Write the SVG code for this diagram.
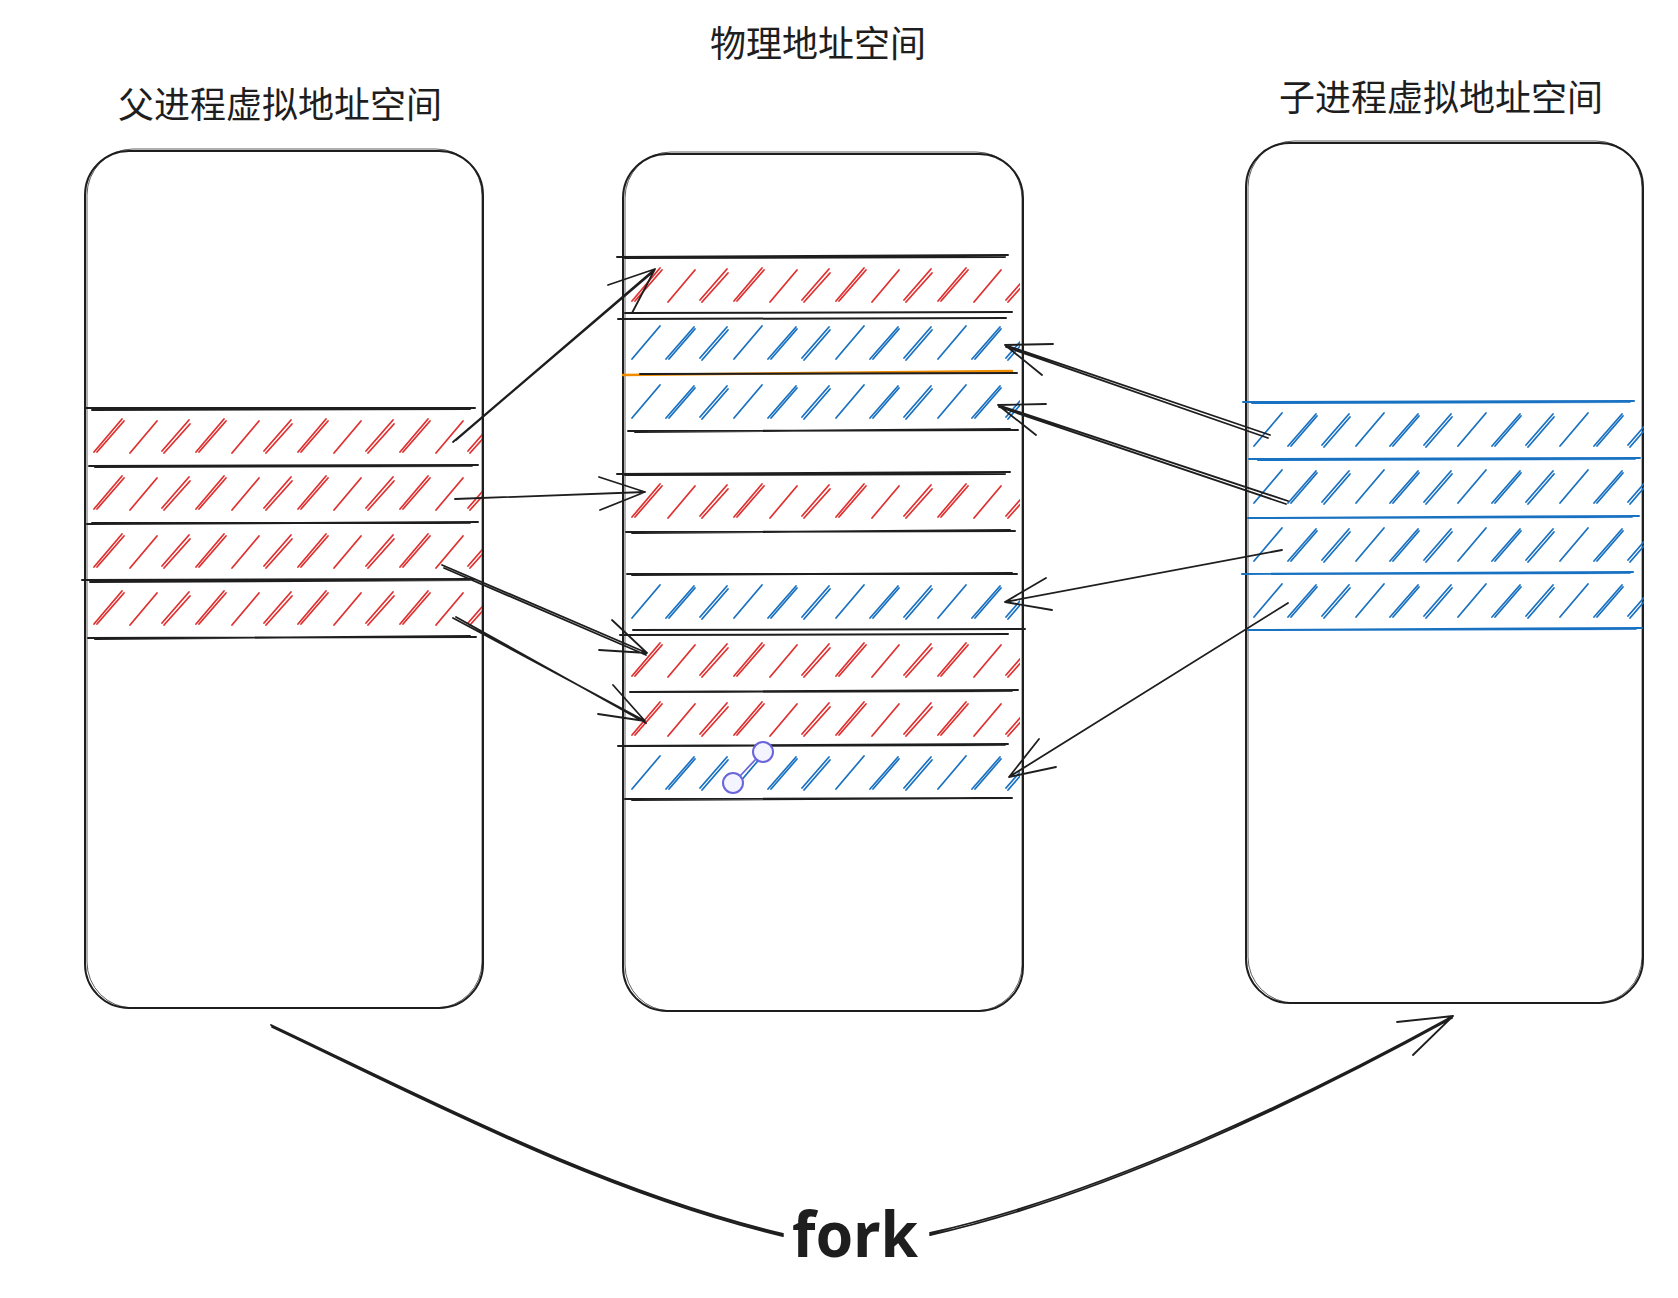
<svg xmlns="http://www.w3.org/2000/svg" width="1678" height="1298" viewBox="0 0 1678 1298">
  <style>
    .box{fill:none;stroke:#1e1e1e;stroke-width:2}
    .box2{fill:none;stroke:#1e1e1e;stroke-width:1;opacity:.7}
    .ln{fill:none;stroke:#1e1e1e;stroke-width:2;stroke-linecap:round}
    .lb{fill:none;stroke:#1971c2;stroke-width:2;stroke-linecap:round}
    .lo{fill:none;stroke:#f08c00;stroke-width:2.5;stroke-linecap:round}
    .ar{fill:none;stroke:#1e1e1e;stroke-width:1.8;stroke-linecap:round;stroke-linejoin:round}
    .t{font-family:"Noto Sans CJK SC","Noto Sans",sans-serif;font-size:36px;fill:#1e1e1e}
    .fork{font-family:"Noto Sans",sans-serif;font-weight:700;font-size:62px;fill:#1e1e1e}
  </style>
  <defs>
    <pattern id="hr" patternUnits="userSpaceOnUse" width="102" height="60">
      <path d="M4 44 L32 11 M7 44 L34 13 M40 45 L67 13 M72 43 L99 12 M74 45 L100 16" fill="none" stroke="#e03131" stroke-width="1.8" stroke-linecap="round"/>
    </pattern>
    <pattern id="hb" patternUnits="userSpaceOnUse" width="102" height="60">
      <path d="M4 44 L32 11 M38 44 L66 12 M41 44 L67 14 M72 43 L99 12 M74 45 L100 15" fill="none" stroke="#1971c2" stroke-width="1.8" stroke-linecap="round"/>
    </pattern>
  </defs>
  <rect width="1678" height="1298" fill="#ffffff"/>

  <g id="parent-space">
    <text class="t" x="118" y="118">父进程虚拟地址空间</text>
    <rect class="box" x="85" y="151" width="398" height="857" rx="44"/>
    <rect class="box2" x="87" y="149" width="395" height="859" rx="46"/>
    <rect transform="translate(90,408)" width="392" height="57" fill="url(#hr)"/>
    <rect transform="translate(90,465)" width="392" height="58" fill="url(#hr)"/>
    <rect transform="translate(90,523)" width="392" height="57" fill="url(#hr)"/>
    <rect transform="translate(90,580)" width="392" height="58" fill="url(#hr)"/>
    <path class="ln" d="M86 408 L475 408 M92 410 L470 409"/>
    <path class="ln" d="M89 466 L478 465 M95 467 L472 466"/>
    <path class="ln" d="M87 524 L478 522 M92 523 L470 523"/>
    <path class="ln" d="M82 580 L474 579 M90 582 L470 580"/>
    <path class="ln" d="M88 638 L476 637 M95 639 L470 636"/>
  </g>

  <g id="physical-space">
    <text class="t" x="710" y="57">物理地址空间</text>
    <rect class="box" x="623" y="154" width="400" height="857" rx="44"/>
    <rect class="box2" x="625" y="152" width="397" height="859" rx="46"/>
    <rect transform="translate(628,257)" width="392" height="58" fill="url(#hr)"/>
    <rect transform="translate(628,315)" width="392" height="59" fill="url(#hb)"/>
    <rect transform="translate(628,374)" width="392" height="56" fill="url(#hb)"/>
    <rect transform="translate(628,473)" width="392" height="58" fill="url(#hr)"/>
    <rect transform="translate(628,574)" width="392" height="58" fill="url(#hb)"/>
    <rect transform="translate(628,632)" width="392" height="59" fill="url(#hr)"/>
    <rect transform="translate(628,691)" width="392" height="54" fill="url(#hr)"/>
    <rect transform="translate(628,745)" width="392" height="54" fill="url(#hb)"/>
    <path class="ln" d="M617 257 L1008 255 M625 258 L1005 257"/>
    <path class="ln" d="M625 313 L1012 312 M618 319 L1006 318"/>
    <path class="lo" d="M623 375 L1012 371"/>
    <path class="ln" d="M640 374 L1017 373"/>
    <path class="ln" d="M628 431 L1018 430 M635 432 L1010 429"/>
    <path class="ln" d="M617 474 L1010 472 M625 475 L1005 474"/>
    <path class="ln" d="M626 532 L1015 531 M632 533 L1010 530"/>
    <path class="ln" d="M627 574 L1017 574 M632 575 L1012 573"/>
    <path class="ln" d="M633 630 L1025 629 M620 635 L1008 634"/>
    <path class="ln" d="M630 692 L1018 690 M635 692 L1012 691"/>
    <path class="ln" d="M618 746 L1008 744 M625 746 L1005 745"/>
    <path class="ln" d="M625 799 L1012 798 M632 800 L1008 798"/>
    <g id="handle">
      <path d="M756 759 L740 776" stroke="#6965db" stroke-width="1.8" fill="none"/>
      <circle cx="763" cy="752" r="10" fill="#f3f4ff" stroke="#6965db" stroke-width="2"/>
      <circle cx="733" cy="783" r="10" fill="#f3f4ff" stroke="#6965db" stroke-width="2"/>
    </g>
  </g>

  <g id="child-space">
    <text class="t" x="1279" y="111">子进程虚拟地址空间</text>
    <rect class="box" x="1246" y="143" width="397" height="860" rx="44"/>
    <rect class="box2" x="1248" y="141" width="394" height="862" rx="46"/>
    <rect transform="translate(1250,402)" width="394" height="57" fill="url(#hb)"/>
    <rect transform="translate(1250,459)" width="394" height="58" fill="url(#hb)"/>
    <rect transform="translate(1250,517)" width="394" height="56" fill="url(#hb)"/>
    <rect transform="translate(1250,573)" width="394" height="56" fill="url(#hb)"/>
    <path class="lb" d="M1243 402 L1634 401 M1252 403 L1630 402"/>
    <path class="lb" d="M1249 459 L1640 458 M1258 460 L1635 459"/>
    <path class="lb" d="M1248 518 L1639 516 M1255 518 L1632 517"/>
    <path class="lb" d="M1242 574 L1633 572 M1250 574 L1630 573"/>
    <path class="lb" d="M1248 630 L1642 628 M1256 630 L1636 629"/>
  </g>

  <g id="connectors">
    <path class="ar" d="M453 442 L655 269 M456 440 L654 271 M608 285 L655 269 L632 313"/>
    <path class="ar" d="M455 499 L645 492 M599 477 L645 492 L600 510"/>
    <path class="ar" d="M442 565 L647 653 M444 568 L646 655 M612 620 L647 653 L599 650"/>
    <path class="ar" d="M453 618 L645 721 M456 617 L646 723 M613 685 L645 721 L598 714"/>
    <path class="ar" d="M1270 435 L1005 345 M1268 438 L1006 347 M1042 375 L1005 345 L1053 344"/>
    <path class="ar" d="M1288 501 L998 405 M1286 504 L999 407 M1036 435 L998 405 L1046 404"/>
    <path class="ar" d="M1282 550 L1005 602 M1052 610 L1005 602 L1046 578"/>
    <path class="ar" d="M1288 603 L1009 777 M1056 767 L1009 777 L1039 739"/>
    <path class="ar" d="M271 1025 C430 1100 600 1190 783 1234 M272 1027 C430 1102 600 1192 783 1236"/>
    <path class="ar" d="M930 1233 C1100 1195 1300 1100 1453 1016 M930 1235 C1100 1197 1300 1102 1452 1018 M1397 1022 L1453 1016 L1413 1055"/>
  </g>
  <text class="fork" x="792" y="1257" textLength="126" lengthAdjust="spacingAndGlyphs">fork</text>
</svg>
